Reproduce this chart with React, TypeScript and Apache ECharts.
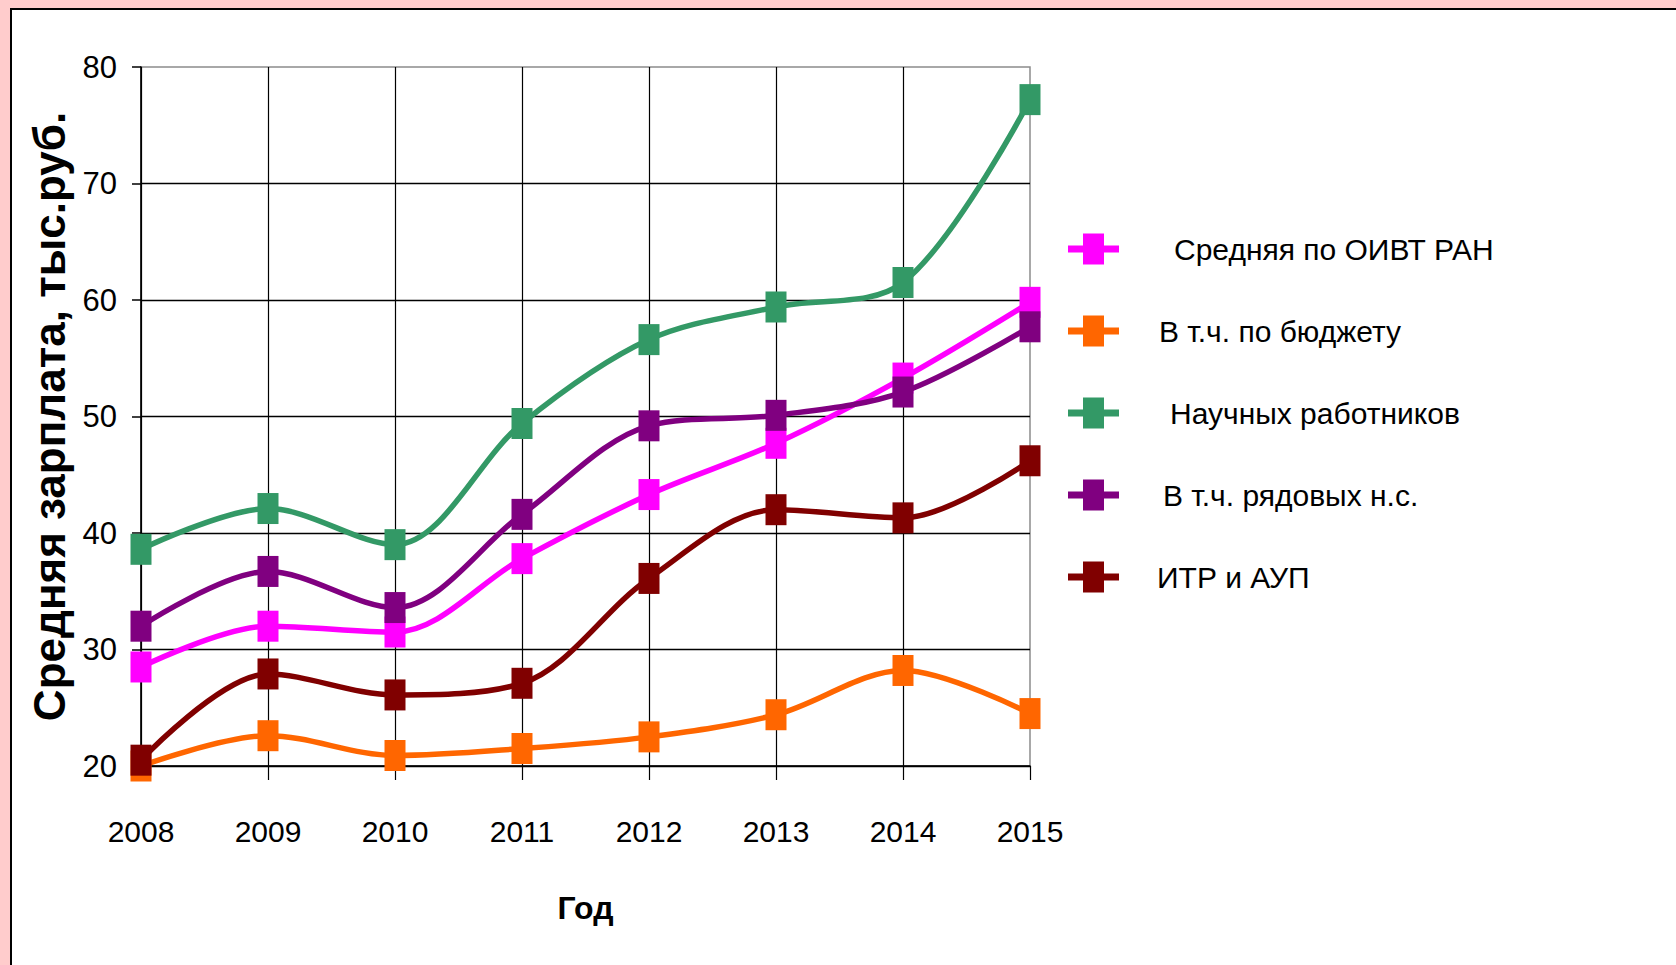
import React, { useEffect, useRef } from "react";
import * as echarts from "echarts";

const years = ["2008", "2009", "2010", "2011", "2012", "2013", "2014", "2015"];
const seriesNames = [
  "Средняя по ОИВТ РАН",
  "В т.ч. по бюджету",
  "Научных работников",
  "В т.ч. рядовых н.с.",
  "ИТР и АУП",
];
const seriesColors = ["#ff00ff", "#ff6600", "#339966", "#800080", "#800000"];
const avgOivt = [28.5, 32.0, 31.5, 37.8, 43.3, 47.7, 53.3, 59.8];
const budget = [20.0, 22.6, 20.9, 21.5, 22.5, 24.4, 28.2, 24.5];
const scientists = [38.6, 42.1, 39.0, 49.4, 56.6, 59.4, 61.5, 77.2];
const rankFile = [32.0, 36.7, 33.6, 41.6, 49.2, 50.1, 52.1, 57.7];
const itrAup = [20.5, 27.9, 26.1, 27.1, 36.1, 42.0, 41.3, 46.2];
const seriesValues = [avgOivt, budget, scientists, rankFile, itrAup];
const yMin = 20;
const yMax = 80;
const yStep = 10;
const yAxisTitle = "Средняя зарплата, тыс.руб.";
const xAxisTitle = "Год";

const FONT = "Liberation Sans";

const legendIcon =
  "path://M0,12L15,12L15,0L36,0L36,12L51,12L51,19L36,19L36,31L15,31L15,19L0,19Z";
const legendIconTops = [233.5, 315.5, 397.5, 479.5, 561.5];
const legendTextLeft = [50, 35, 46, 39, 33];

export default function App() {
  const ref = useRef<HTMLDivElement>(null);
  useEffect(() => {
    if (!ref.current) return;
    const chart = echarts.init(ref.current, null, { renderer: "svg" });
    const legends = seriesNames.map((name, i) => ({
      data: [name],
      orient: "vertical",
      left: 1068,
      top: legendIconTops[i],
      padding: 0,
      itemWidth: 51,
      itemHeight: 31,
      icon: legendIcon,
      selectedMode: false,
      itemStyle: { borderWidth: 0 },
      textStyle: {
        fontFamily: FONT,
        fontSize: 30,
        color: "#000",
        lineHeight: 31,
        padding: [0, 0, 0, legendTextLeft[i]],
      },
    }));
    chart.setOption({
      animation: false,
      backgroundColor: "#ffcccc",
      graphic: {
        elements: [
          {
            type: "rect",
            z: -100,
            silent: true,
            shape: { x: 11, y: 9, width: 1700, height: 1000 },
            style: { fill: "#ffffff", stroke: "#000000", lineWidth: 2 },
          },
        ],
      },
      legend: legends,
      grid: {
        left: 141,
        top: 67,
        width: 889,
        height: 699,
        show: true,
        backgroundColor: "#ffffff",
        borderColor: "#8c8c8c",
        borderWidth: 1.5,
        containLabel: false,
      },
      xAxis: {
        type: "category",
        data: years,
        boundaryGap: false,
        name: xAxisTitle,
        nameLocation: "middle",
        nameGap: 126,
        nameTextStyle: { fontFamily: FONT, fontWeight: "bold", fontSize: 32, color: "#000" },
        axisLine: { lineStyle: { color: "#000", width: 1.5 } },
        axisTick: { show: true, length: 14, lineStyle: { color: "#000", width: 1.2 } },
        axisLabel: { fontFamily: FONT, fontSize: 30, color: "#000", margin: 50 },
        splitLine: { show: true, showMaxLine: false, lineStyle: { color: "#000", width: 1.2 } },
      },
      yAxis: {
        type: "value",
        min: yMin,
        max: yMax,
        interval: yStep,
        name: yAxisTitle,
        nameLocation: "middle",
        nameRotate: 90,
        nameGap: 51,
        nameTextStyle: { fontFamily: FONT, fontWeight: "bold", fontSize: 44, color: "#000" },
        axisLine: { show: true, lineStyle: { color: "#000", width: 1.5 } },
        axisTick: { show: true, length: 9, lineStyle: { color: "#000", width: 1.5 } },
        axisLabel: { fontFamily: FONT, fontSize: 31, color: "#000", margin: 24 },
        splitLine: { show: true, showMaxLine: false, lineStyle: { color: "#000", width: 1.4 } },
      },
      series: seriesNames.map((name, i) => ({
        name,
        type: "line",
        data: seriesValues[i],
        smooth: 0.33,
        symbol: "rect",
        symbolSize: [21, 31],
        color: seriesColors[i],
        lineStyle: { color: seriesColors[i], width: 5.5 },
        itemStyle: { color: seriesColors[i], borderWidth: 0 },
        z: 2 + i,
      })),
    });
    return () => chart.dispose();
  }, []);
  return (
    <div style={{ position: "fixed", left: 0, top: 0, width: 1676, height: 965 }}>
      <div ref={ref} style={{ width: 1676, height: 965 }} />
    </div>
  );
}
